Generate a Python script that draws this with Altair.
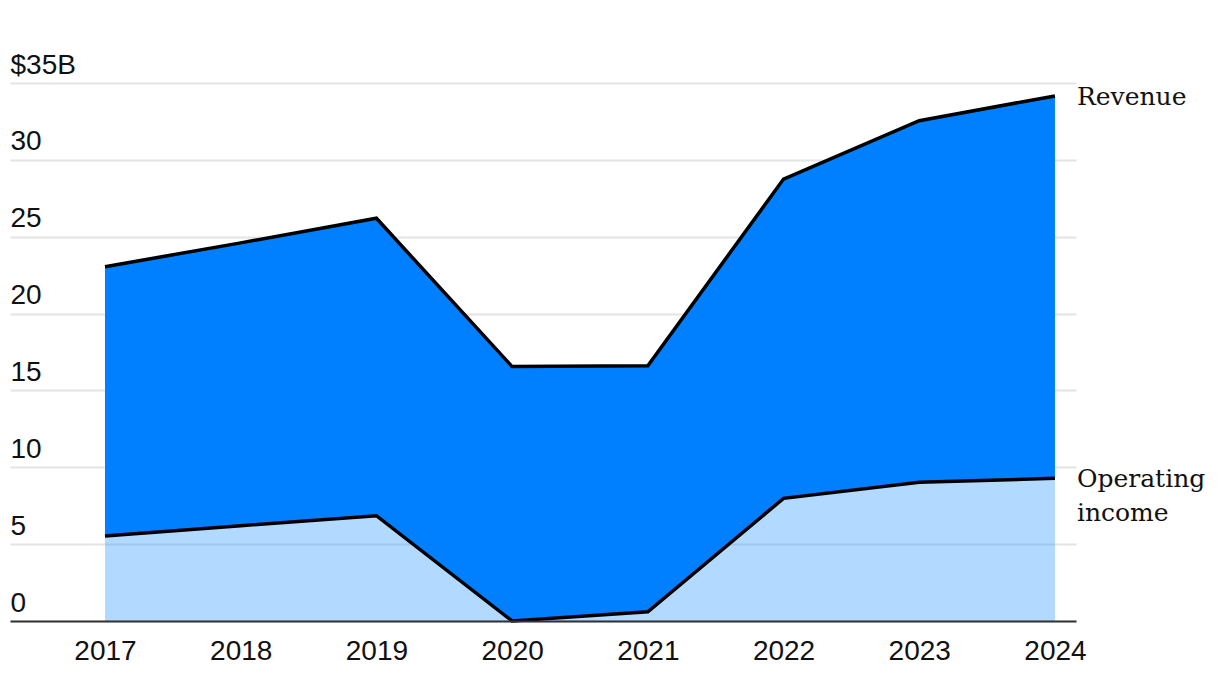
import altair as alt
import pandas as pd

years = [2017, 2018, 2019, 2020, 2021, 2022, 2023, 2024]
revenue = [23.05, 24.6, 26.2, 16.55, 16.6, 28.75, 32.55, 34.16]
operating_income = [5.53, 6.2, 6.85, 0.0, 0.6, 7.98, 9.02, 9.28]
y_ticks = [0, 5, 10, 15, 20, 25, 30, 35]

df = pd.DataFrame({"year": years, "revenue": revenue, "op": operating_income})

labels = pd.DataFrame({
    "year": [2024, 2024],
    "value": [revenue[-1], operating_income[-1]],
    "text": ["Revenue", "Operating\nincome"],
})

x_scale = alt.Scale(domain=[2016.30, 2024.155], nice=False, zero=False)
y_scale = alt.Scale(domain=[0, 35], nice=False)

x_axis = alt.Axis(values=years, format="d", title=None, grid=False, ticks=False,
                  domain=True, domainColor="#333333", domainWidth=2,
                  labelFont="Liberation Sans", labelFontSize=28, labelColor="#111111",
                  labelPadding=16, labelFlush=False, zindex=1)
y_axis = alt.Axis(values=y_ticks, title=None, ticks=False, tickSize=0, domain=False,
                  grid=True, gridColor="#e4e4e4", gridWidth=2,
                  labelAlign="left", labelBaseline="alphabetic", labelOffset=-10,
                  labelPadding=0, labelFont="Liberation Sans", labelFontSize=28,
                  labelColor="#111111",
                  labelExpr="datum.value == 35 ? '$35B' : datum.label", zindex=0)

base = alt.Chart(df)

rev_area = base.mark_area(color="#0080ff", opacity=1).encode(
    x=alt.X("year:Q", scale=x_scale, axis=x_axis),
    y=alt.Y("revenue:Q", scale=y_scale, axis=y_axis),
    y2="op:Q",
)
op_area = base.mark_area(color="#0080ff", opacity=0.3).encode(
    x=alt.X("year:Q", scale=x_scale),
    y=alt.Y("op:Q", scale=y_scale),
)
rev_line = base.mark_line(color="#000000", strokeWidth=3.5).encode(
    x=alt.X("year:Q", scale=x_scale),
    y=alt.Y("revenue:Q", scale=y_scale),
)
op_line = base.mark_line(color="#000000", strokeWidth=3.5).encode(
    x=alt.X("year:Q", scale=x_scale),
    y=alt.Y("op:Q", scale=y_scale),
)

rev_label = alt.Chart(labels.iloc[[0]]).mark_text(
    align="left", baseline="middle", dx=22, dy=1, font="DejaVu Serif", fontSize=25, color="#111111"
).encode(x=alt.X("year:Q", scale=x_scale), y=alt.Y("value:Q", scale=y_scale), text="text:N")

op_label = alt.Chart(labels.iloc[[1]]).mark_text(
    align="left", baseline="top", dx=22, dy=-11, font="DejaVu Serif", fontSize=25,
    lineBreak="\n", lineHeight=34, color="#111111"
).encode(x=alt.X("year:Q", scale=x_scale), y=alt.Y("value:Q", scale=y_scale), text="text:N")

chart = alt.layer(rev_area, op_area, rev_line, op_line, rev_label, op_label).properties(
    width=1066, height=538,
    autosize=alt.AutoSizeParams(type="none"),
    padding={"left": 2, "top": 75, "right": 130, "bottom": 60},
    background="white",
).configure_view(stroke=None, strokeWidth=0)

chart.save("out.html", embed_options={"renderer": "svg", "actions": False})
